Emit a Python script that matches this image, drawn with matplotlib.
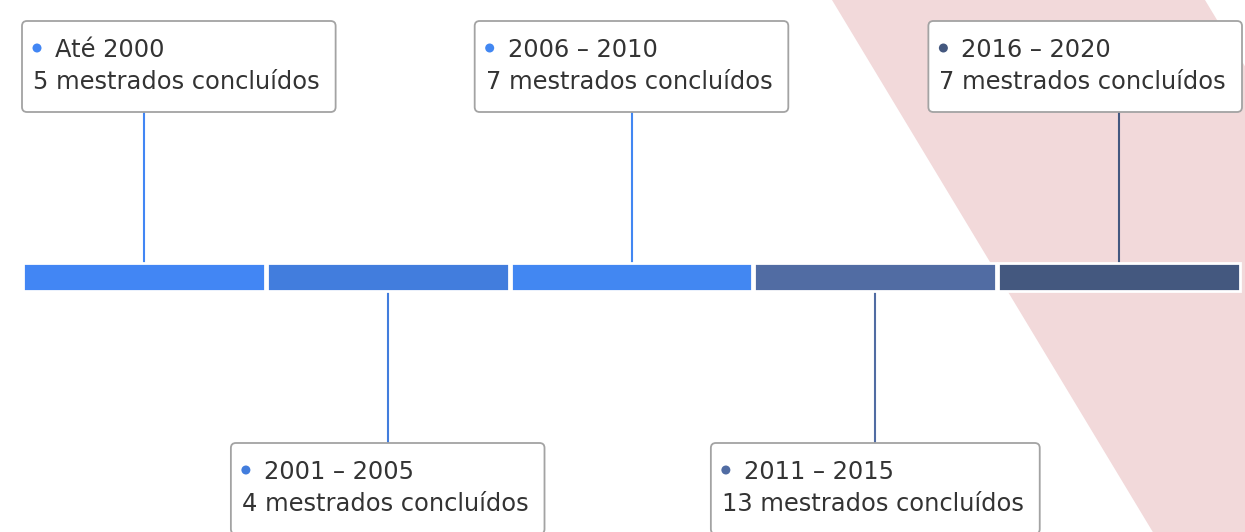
import numpy as np
import matplotlib
matplotlib.use('Agg')
import matplotlib.pyplot as plt
from matplotlib.patches import FancyBboxPatch, Polygon, Rectangle, Circle

plt.rcParams['font.family'] = ['DejaVu Sans']

# dados da linha do tempo
periodos = ['Até 2000', '2001 – 2005', '2006 – 2010', '2011 – 2015', '2016 – 2020']
mestrados = [5, 4, 7, 13, 7]
cores = ['#4286f4', '#427ddd', '#4287f2', '#516ca3', '#44587f']

W, H = 1245, 532
fig = plt.figure(figsize = (W / 100, H / 100), dpi = 100)
ax = fig.add_axes([0, 0, 1, 1])
ax.set_xlim(0, W)
ax.set_ylim(H, 0)
ax.axis('off')

# faixa rosa no fundo
inclin = 0.603
ax.add_patch(Polygon([(832, 0), (1205, 0), (1205 + inclin * H, H), (832 + inclin * H, H)],
                     closed = True, facecolor = '#f2d9da', edgecolor = 'none', zorder = 0))

x0, x1 = 22, 1241
barra_top, barra_h = 263, 28
seg_w = (x1 - x0) / len(periodos)

renderer = fig.canvas.get_renderer()
fs = 17.4
cor_txt = '#333333'

for i, (per, n, cor) in enumerate(zip(periodos, mestrados, cores)):
    sx = x0 + i * seg_w
    ax.add_patch(Rectangle((sx + 1, barra_top), seg_w - 2, barra_h, facecolor = cor,
                           edgecolor = 'white', linewidth = 2.0, zorder = 2))
    cx = sx + seg_w / 2

    cima = (i % 2 == 0)
    topo = 21 if cima else 443
    bh = 91

    t1 = ax.text(0, topo + 36, per, fontsize = fs, color = cor_txt, va = 'baseline', zorder = 5)
    t2 = ax.text(0, topo + 68, f'{n} mestrados concluídos', fontsize = fs, color = cor_txt,
                 va = 'baseline', zorder = 5)
    w1 = t1.get_window_extent(renderer).width + 22
    w2 = t2.get_window_extent(renderer).width
    bw = max(w1, w2) + 27
    bx = min(max(cx - bw / 2, x0), W - 3 - bw)
    t1.set_x(bx + 33)
    t2.set_x(bx + 11)

    ax.add_patch(FancyBboxPatch((bx, topo), bw, bh, boxstyle = 'round,pad=0,rounding_size=5',
                                facecolor = 'white', edgecolor = '#a3a3a3', linewidth = 1.3, zorder = 4))
    ax.add_patch(Circle((bx + 15, topo + 27), 4.5, facecolor = cor, edgecolor = 'none', zorder = 5))

    # conector
    if cima:
        ax.plot([cx, cx], [topo + bh, barra_top], color = cor, linewidth = 1.5, zorder = 1)
    else:
        ax.plot([cx, cx], [barra_top + barra_h, topo], color = cor, linewidth = 1.5, zorder = 1)

fig.savefig('out.png', dpi = 100)
